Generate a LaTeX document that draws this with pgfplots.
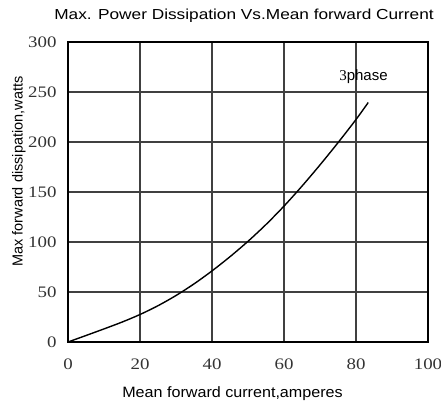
\documentclass[border=0pt]{standalone}
\usepackage{fontspec}
\setmainfont{Liberation Sans}
\newfontfamily\seriffont{Liberation Serif}
\usepackage{pgfplots}
\pgfplotsset{compat=1.18}
\begin{document}
\begin{tikzpicture}
\useasboundingbox (-68pt,-63pt) rectangle (373pt,342pt);
\begin{axis}[
  at={(0,0)}, anchor=south west,
  scale only axis, width=360pt, height=300pt,
  xmin=0, xmax=100, ymin=0, ymax=300,
  xtick={0,20,...,100}, ytick={0,50,...,300},
  grid=major,
  major grid style={black!75, line width=1.1pt},
  axis line style={black, line width=1.4pt},
  major tick length=0pt,
  /pgf/number format/assume math mode=true,
  tick label style={font=\fontsize{16}{16}\selectfont\seriffont, text=black!80},
  xticklabel={\scalebox{1.18}[1]{\pgfmathprintnumber{\tick}}},
  yticklabel={\scalebox{1.18}[1]{\pgfmathprintnumber{\tick}}},
  xticklabel style={yshift=-13pt},
  yticklabel style={xshift=-8pt},
  title={\scalebox{1.19}[1]{Max. Power Dissipation Vs.Mean forward Current}},
  title style={at={(axis description cs:0.489,1)}, anchor=base, yshift=17pt, font=\fontsize{14.5}{14.5}\selectfont},
  xlabel={\scalebox{1.075}[1]{Mean forward current,amperes}},
  xlabel style={at={(axis description cs:0.457,0)}, anchor=base, yshift=-55pt, font=\fontsize{15}{15}\selectfont},
  ylabel={Max forward dissipation,watts},
  ylabel style={at={(axis description cs:-0.1258,0.568)}, anchor=base, font=\fontsize{14.5}{14.5}\selectfont},
]
\addplot[black, line width=1.4pt, smooth, tension=0.5] coordinates {
(0,0) (5,6.5) (10,13.1) (15,19.9) (20,27.5) (25,36.3) (30,46.5) (35,58.1) (40,71.1) (45,85.3) (50,100.7) (55,117.5) (60,135.9) (65,155.9) (70,177.1) (75,199.3) (80,222.5) (83.4,239.5)
};
\node[anchor=base west, font=\fontsize{15}{15}\selectfont, inner sep=0pt] at (axis cs:75.3,262) {{\seriffont 3}phase};
\end{axis}
\end{tikzpicture}
\end{document}
